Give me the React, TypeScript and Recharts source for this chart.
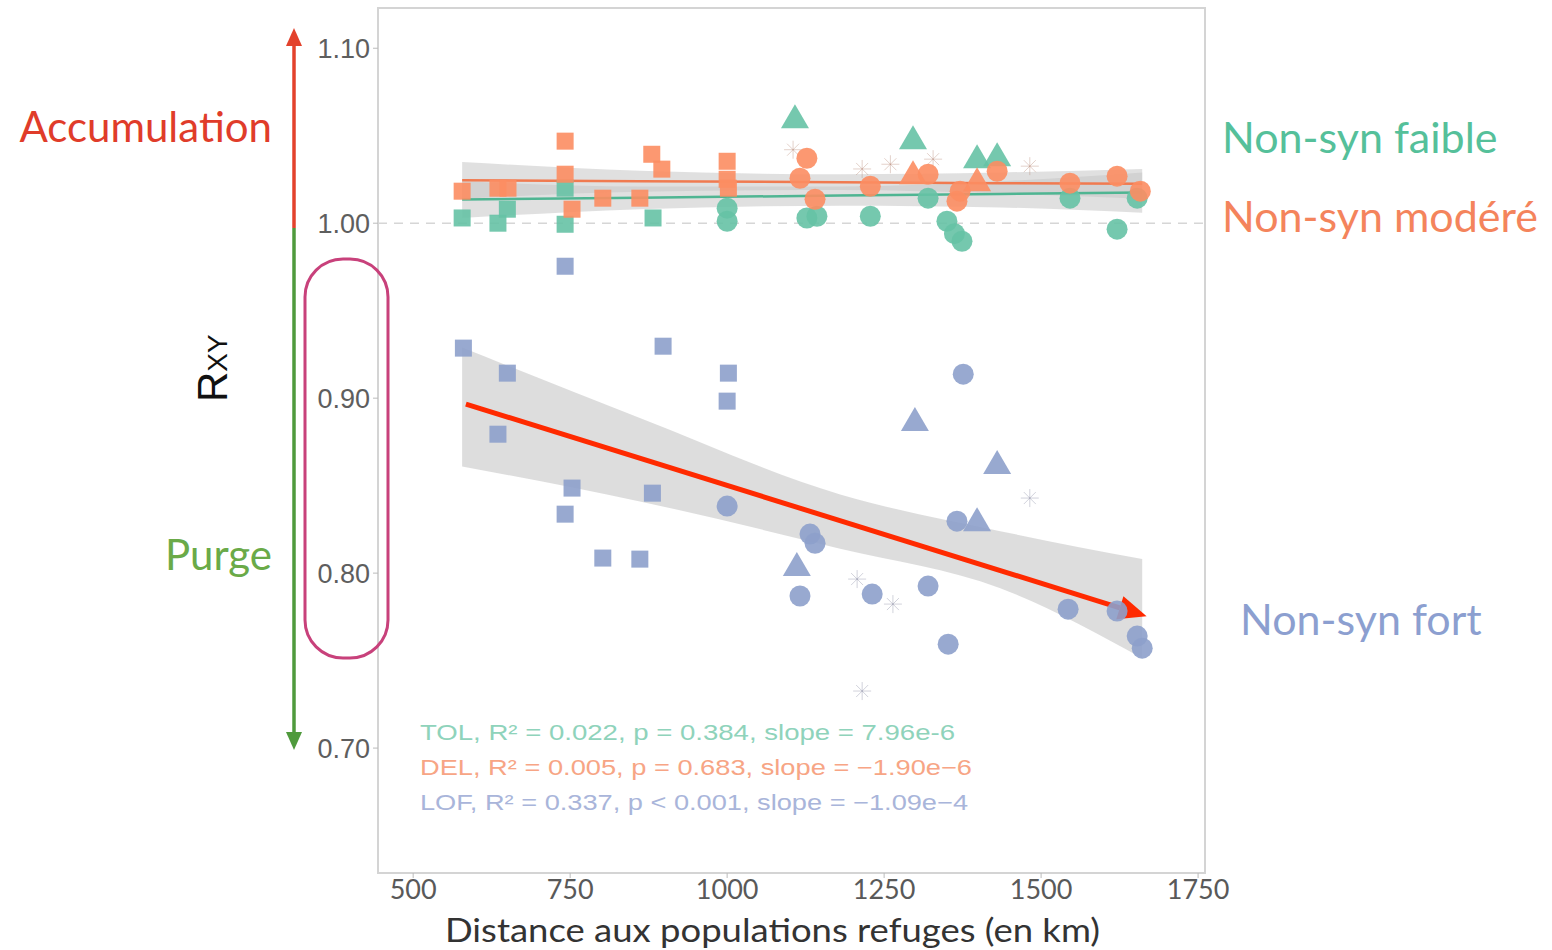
import { ComposedChart, XAxis, YAxis, Scatter, Area, Line, ReferenceLine, ReferenceArea } from "recharts";

// ---- data ----
const xTicks = [500, 750, 1000, 1250, 1500, 1750];
const yTicks = [0.7, 0.8, 0.9, 1.0, 1.1];

const tolSquares: [number, number][] = [[578, 1.003], [635, 1.0], [650, 1.008], [742, 0.9994], [742, 1.02], [882, 1.003]];
const tolCircles: [number, number][] = [
  [1000, 1.0086], [1000, 1.0011], [1127, 1.003], [1143, 1.004], [1228, 1.004], [1320, 1.0143],
  [1350, 1.0011], [1362, 0.994], [1374, 0.9897], [1546, 1.0143], [1621, 0.9966], [1653, 1.0143],
];
const tolTriangles: [number, number][] = [[1108, 1.06], [1296, 1.048], [1398, 1.0371], [1430, 1.0383]];
const tolStars: [number, number][] = [[1105, 1.042], [1215, 1.031], [1260, 1.0337], [1328, 1.0366], [1482, 1.0326]];

const delSquares: [number, number][] = [
  [578, 1.0183], [635, 1.02], [651, 1.02], [742, 1.0469], [742, 1.028], [753, 1.008], [802, 1.0143],
  [861, 1.0143], [880, 1.0394], [896, 1.0309], [1000, 1.0354], [1000, 1.0251], [1002, 1.02],
];
const delCircles: [number, number][] = [
  [1127, 1.0371], [1116, 1.0257], [1140, 1.0137], [1228, 1.0211], [1320, 1.028], [1366, 1.0126], [1371, 1.0183],
  [1430, 1.0297], [1546, 1.0229], [1621, 1.0269], [1658, 1.0183],
];
const delTriangles: [number, number][] = [[1296, 1.028], [1398, 1.024]];

const lofSquares: [number, number][] = [
  [580, 0.9286], [650, 0.9143], [898, 0.9297], [1002, 0.9143], [1000, 0.8983], [635, 0.8794],
  [753, 0.8486], [742, 0.8337], [881, 0.8457], [802, 0.8086], [861, 0.808], [742, 0.9754],
];
const lofCircles: [number, number][] = [
  [1000, 0.8383], [1132, 0.8223], [1140, 0.8171], [1116, 0.7869], [1376, 0.9137], [1366, 0.8297],
  [1231, 0.788], [1320, 0.7926], [1352, 0.7594], [1543, 0.7794], [1621, 0.7783], [1653, 0.764], [1661, 0.7571],
];
const lofTriangles: [number, number][] = [[1111, 0.804], [1299, 0.8869], [1430, 0.8623], [1398, 0.8297]];
const lofStars: [number, number][] = [[1482, 0.8429], [1215, 0.7326], [1264, 0.7823], [1207, 0.7966]];

// fitted lines + confidence bands
const bandX = [578, 861, 1180, 1435, 1661];
const tolFit = [1.0135, 1.0146, 1.0158, 1.0167, 1.0175];
const tolLow = [1.003, 1.008, 1.01, 1.009, 1.006];
const tolHigh = [1.024, 1.021, 1.021, 1.024, 1.029];
const delFit = [1.0245, 1.024, 1.0234, 1.0229, 1.0225];
const delLow = [1.014, 1.018, 1.019, 1.017, 1.014];
const delHigh = [1.035, 1.03, 1.028, 1.029, 1.031];
const lofLow = [0.861, 0.841, 0.814, 0.7914, 0.7514];
const lofHigh = [0.929, 0.8886, 0.845, 0.824, 0.808];

// red trend arrow drawn on top
const arrowStart = { x: 584, y: 0.8966 };
const arrowEnd = { x: 1668, y: 0.7754 };

const statLines = [
  { text: "TOL, R² = 0.022, p = 0.384, slope = 7.96e-6", color: "#8fd3bb", w: 535 },
  { text: "DEL, R² = 0.005, p = 0.683, slope = −1.90e−6", color: "#f7a585", w: 552 },
  { text: "LOF, R² = 0.337, p < 0.001, slope = −1.09e−4", color: "#a9b5da", w: 548 },
];

const GREEN = "#66c2a5";
const ORANGE = "#fc8d62";
const BLUE = "#8da0cb";

const pts = (arr: [number, number][]) => arr.map(([x, y]) => ({ x, y }));

const bandData = bandX.map((x, i) => ({
  x,
  tolFit: tolFit[i],
  delFit: delFit[i],
  tolBand: [tolLow[i], tolHigh[i]],
  delBand: [delLow[i], delHigh[i]],
  lofBand: [lofLow[i], lofHigh[i]],
}));

const square = (color: string) => (p: any) => (
  <rect x={p.cx - 8.5} y={p.cy - 8.5} width={17} height={17} fill={color} fillOpacity={0.9} />
);
const circle = (color: string) => (p: any) => (
  <circle cx={p.cx} cy={p.cy} r={10.5} fill={color} fillOpacity={0.9} />
);
const triangle = (color: string) => (p: any) => (
  <polygon
    points={`${p.cx},${p.cy - 14} ${p.cx - 14},${p.cy + 10} ${p.cx + 14},${p.cy + 10}`}
    fill={color}
    fillOpacity={0.9}
  />
);
const star = (color: string) => (p: any) => (
  <g stroke={color} strokeWidth={1} strokeOpacity={0.35}>
    <line x1={p.cx - 9} y1={p.cy} x2={p.cx + 9} y2={p.cy} />
    <line x1={p.cx} y1={p.cy - 9} x2={p.cx} y2={p.cy + 9} />
    <line x1={p.cx - 6} y1={p.cy - 6} x2={p.cx + 6} y2={p.cy + 6} />
    <line x1={p.cx - 6} y1={p.cy + 6} x2={p.cx + 6} y2={p.cy - 6} />
  </g>
);

const RedArrow = (p: any) => {
  const { x1, y1, x2, y2 } = p;
  if (x1 === undefined) return <g />;
  const ang = Math.atan2(y2 - y1, x2 - x1);
  const len = 28;
  const half = 12;
  const bx = x2 - len * Math.cos(ang);
  const by = y2 - len * Math.sin(ang);
  const nx = -Math.sin(ang);
  const ny = Math.cos(ang);
  return (
    <g>
      <line x1={x1} y1={y1} x2={bx} y2={by} stroke="#ff2a00" strokeWidth={5} />
      <polygon
        points={`${x2},${y2} ${bx + nx * half},${by + ny * half} ${bx - nx * half},${by - ny * half}`}
        fill="#ff2a00"
      />
    </g>
  );
};

export default function App() {
  return (
    <div style={{ position: "absolute", left: 0, top: 0, width: 1552, height: 950, background: "#fff" }}>
      <ComposedChart
        width={1552}
        height={950}
        data={bandData}
        margin={{ top: 8, right: 347, bottom: 17, left: 298 }}
      >
        <XAxis
          dataKey="x"
          type="number"
          domain={[444, 1761]}
          ticks={xTicks}
          allowDataOverflow
          height={60}
          tickSize={5}
          tickMargin={2}
          axisLine={false}
          tickLine={{ stroke: "#bbb" }}
          tick={{ fill: "#595959", fontSize: 27, fontFamily: "Lato" }}
        />
        <YAxis
          dataKey="y"
          type="number"
          domain={[0.6286, 1.123]}
          ticks={yTicks}
          allowDataOverflow
          width={80}
          tickSize={5}
          tickMargin={3}
          axisLine={false}
          tickLine={{ stroke: "#bbb" }}
          tickFormatter={(v: number) => v.toFixed(2)}
          tick={{ fill: "#5e5e5e", fontSize: 27, fontFamily: "Liberation Sans" }}
        />
        <ReferenceArea x1={444} x2={1761} y1={0.6286} y2={1.123} fill="none" stroke="#d4d4d4" strokeWidth={2} />
        <ReferenceLine y={1} stroke="#d6d6d6" strokeDasharray="9 7" strokeWidth={1.5} />

        <Area dataKey="lofBand" type="monotone" stroke="none" fill="#c6c6c6" fillOpacity={0.6} isAnimationActive={false} />
        <Area dataKey="tolBand" type="monotone" stroke="none" fill="#c6c6c6" fillOpacity={0.55} isAnimationActive={false} />
        <Area dataKey="delBand" type="monotone" stroke="none" fill="#c6c6c6" fillOpacity={0.55} isAnimationActive={false} />

        <Scatter data={pts(lofSquares)} shape={square(BLUE)} isAnimationActive={false} />
        <Scatter data={pts(lofCircles)} shape={circle(BLUE)} isAnimationActive={false} />
        <Scatter data={pts(lofTriangles)} shape={triangle(BLUE)} isAnimationActive={false} />
        <Scatter data={pts(lofStars)} shape={star("#7a7f99")} isAnimationActive={false} />
        <Scatter data={pts(tolStars)} shape={star("#b07a68")} isAnimationActive={false} />
        <Scatter data={pts(tolSquares)} shape={square(GREEN)} isAnimationActive={false} />
        <Scatter data={pts(tolCircles)} shape={circle(GREEN)} isAnimationActive={false} />
        <Scatter data={pts(tolTriangles)} shape={triangle(GREEN)} isAnimationActive={false} />
        <Scatter data={pts(delSquares)} shape={square(ORANGE)} isAnimationActive={false} />
        <Scatter data={pts(delCircles)} shape={circle(ORANGE)} isAnimationActive={false} />
        <Scatter data={pts(delTriangles)} shape={triangle(ORANGE)} isAnimationActive={false} />

        <Line dataKey="tolFit" type="linear" stroke="#4fb592" strokeWidth={2.5} dot={false} isAnimationActive={false} />
        <Line dataKey="delFit" type="linear" stroke="#f07a50" strokeWidth={2.5} dot={false} isAnimationActive={false} />

        <ReferenceLine
          segment={[arrowStart, arrowEnd]}
          stroke="#ff2a00"
          strokeWidth={5}
          shape={RedArrow}
        />
      </ComposedChart>

      <svg
        width={1552}
        height={950}
        style={{ position: "absolute", left: 0, top: 0, pointerEvents: "none" }}
      >
        {/* vertical accumulation / purge arrow */}
        <line x1={294} y1={40} x2={294} y2={228} stroke="#e3422c" strokeWidth={3.5} />
        <polygon points="294,28 286,46 302,46" fill="#e3422c" />
        <line x1={294} y1={228} x2={294} y2={734} stroke="#4f9a3c" strokeWidth={3.5} />
        <polygon points="294,750 286,732 302,732" fill="#4f9a3c" />

        <text x={272} y={142} textAnchor="end" fontFamily="Lato" fontSize={42} fill="#e03c2a">Accumulation</text>
        <text x={272} y={570} textAnchor="end" fontFamily="Lato" fontSize={42} fill="#6aaa48">Purge</text>

        <text transform="translate(227,402) rotate(-90)" fontFamily="Liberation Sans" fill="#111">
          <tspan fontSize={42}>R</tspan>
          <tspan fontSize={28}>XY</tspan>
        </text>

        <rect x={305} y={259} width={83} height={399} rx={38} ry={38} fill="none" stroke="#c8417b" strokeWidth={3} />

        <text x={1222} y={153} fontFamily="Lato" fontSize={43} fill="#55c09a">Non-syn faible</text>
        <text x={1222} y={232} fontFamily="Lato" fontSize={43} fill="#f4845c">Non-syn modéré</text>
        <text x={1240} y={635} fontFamily="Lato" fontSize={43} fill="#8c9fd0">Non-syn fort</text>

        {statLines.map((s, i) => (
          <text
            key={s.text}
            x={420}
            y={740 + i * 35}
            fontFamily="Liberation Sans"
            fontSize={22}
            fill={s.color}
            textLength={s.w}
            lengthAdjust="spacingAndGlyphs"
          >
            {s.text}
          </text>
        ))}

        <text
          x={445}
          y={942}
          fontFamily="Lato"
          fontSize={32}
          fill="#333"
          textLength={655}
          lengthAdjust="spacingAndGlyphs"
        >
          Distance aux populations refuges (en km)
        </text>
      </svg>
    </div>
  );
}
